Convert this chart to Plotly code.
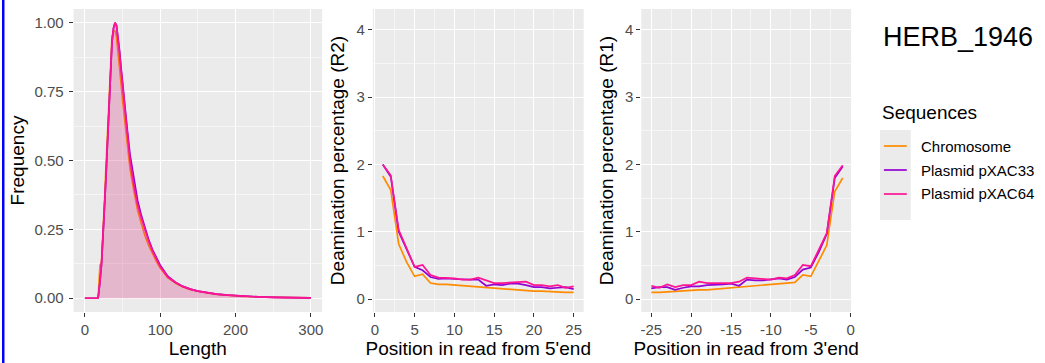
import plotly.graph_objects as go

# ---------------- data ----------------
series_names = ["Chromosome", "Plasmid pXAC33", "Plasmid pXAC64"]
series_colors = ["#FF8C00", "#9400D3", "#FF1493"]
fill_colors = ["rgba(255,140,0,0.1)", "rgba(148,0,211,0.1)", "rgba(255,20,147,0.1)"]

length_x = [0, 5, 10, 15, 17, 18, 19, 20, 22, 24, 26, 28, 30, 32, 34, 36, 38, 40, 42, 44,
            46, 48, 50, 53, 56, 60, 65, 70, 75, 80, 85, 90, 95, 100, 110, 120, 130, 140,
            150, 160, 175, 190, 210, 230, 250, 275, 300]
freq_chrom = [0, 0, 0, 0, 0, 0.02, 0.10, 0.12, 0.13, 0.22, 0.35, 0.48, 0.60, 0.74, 0.87, 0.95,
              0.97, 0.97, 0.95, 0.90, 0.85, 0.78, 0.72, 0.64, 0.56, 0.47, 0.39, 0.32, 0.27,
              0.225, 0.19, 0.16, 0.133, 0.11, 0.075, 0.055, 0.041, 0.031, 0.025, 0.02, 0.014,
              0.01, 0.007, 0.005, 0.003, 0.002, 0.001]
freq_p33 = [0, 0, 0, 0, 0, 0.01, 0.03, 0.06, 0.12, 0.21, 0.33, 0.44, 0.57, 0.71, 0.84, 0.93,
            0.98, 1.0, 0.99, 0.95, 0.90, 0.84, 0.78, 0.70, 0.62, 0.52, 0.43, 0.355, 0.30,
            0.25, 0.21, 0.175, 0.145, 0.12, 0.08, 0.058, 0.043, 0.033, 0.026, 0.021, 0.015,
            0.011, 0.007, 0.005, 0.003, 0.002, 0.001]
freq_p64 = [0, 0, 0, 0, 0, 0.01, 0.03, 0.06, 0.12, 0.21, 0.33, 0.44, 0.57, 0.71, 0.84, 0.93,
            0.98, 1.0, 0.99, 0.95, 0.89, 0.83, 0.77, 0.68, 0.60, 0.50, 0.41, 0.34, 0.29,
            0.245, 0.205, 0.17, 0.14, 0.115, 0.077, 0.058, 0.043, 0.033, 0.026, 0.021, 0.015,
            0.011, 0.007, 0.005, 0.003, 0.002, 0.001]

pos5 = list(range(1, 26))
r2_chrom = [1.83, 1.62, 0.82, 0.55, 0.34, 0.37, 0.24, 0.22, 0.22, 0.21, 0.20, 0.19, 0.19,
            0.17, 0.16, 0.15, 0.15, 0.14, 0.13, 0.12, 0.12, 0.11, 0.10, 0.10, 0.10]
r2_p33 = [2.0, 1.82, 1.0, 0.74, 0.48, 0.43, 0.33, 0.30, 0.31, 0.30, 0.29, 0.29, 0.29,
          0.20, 0.22, 0.21, 0.23, 0.23, 0.21, 0.18, 0.18, 0.16, 0.17, 0.18, 0.15]
r2_p64 = [2.0, 1.84, 1.03, 0.75, 0.48, 0.51, 0.36, 0.32, 0.32, 0.31, 0.29, 0.29, 0.32,
          0.28, 0.24, 0.24, 0.25, 0.26, 0.26, 0.21, 0.21, 0.19, 0.21, 0.17, 0.19]

pos3 = list(range(-1, -26, -1))
r1_chrom = [1.80, 1.60, 0.80, 0.56, 0.34, 0.36, 0.25, 0.24, 0.23, 0.22, 0.20, 0.19, 0.19,
            0.18, 0.17, 0.16, 0.15, 0.14, 0.14, 0.13, 0.12, 0.11, 0.10, 0.10, 0.10]
r1_p33 = [1.97, 1.80, 0.97, 0.70, 0.47, 0.44, 0.33, 0.29, 0.31, 0.29, 0.28, 0.28, 0.29,
          0.20, 0.23, 0.22, 0.22, 0.21, 0.19, 0.19, 0.17, 0.14, 0.18, 0.18, 0.16]
r1_p64 = [1.99, 1.83, 0.98, 0.73, 0.49, 0.51, 0.36, 0.31, 0.32, 0.29, 0.30, 0.31, 0.32,
          0.26, 0.24, 0.24, 0.24, 0.24, 0.26, 0.21, 0.21, 0.18, 0.22, 0.17, 0.20]

length_ticks = [0, 100, 200, 300]
freq_ticks = [0, 0.25, 0.5, 0.75, 1.0]
freq_ticklabels = ["0.00", "0.25", "0.50", "0.75", "1.00"]
pos5_ticks = [0, 5, 10, 15, 20, 25]
pos3_ticks = [-25, -20, -15, -10, -5, 0]
pos3_ticklabels = ["-25", "-20", "-15", "-10", "-5", "0"]
deam_ticks = [0, 1, 2, 3, 4]

# ---------------- figure ----------------
W, H = 1045, 363
fig = go.Figure()

freqs = [freq_chrom, freq_p33, freq_p64]
r2s = [r2_chrom, r2_p33, r2_p64]
r1s = [r1_chrom, r1_p33, r1_p64]

for i in range(3):
    fig.add_trace(go.Scatter(x=length_x, y=freqs[i], mode="lines", fill="tozeroy",
                             fillcolor=fill_colors[i],
                             line=dict(color=series_colors[i], width=1.7),
                             name=series_names[i], showlegend=False,
                             xaxis="x", yaxis="y"))
for i in range(3):
    fig.add_trace(go.Scatter(x=pos5, y=r2s[i], mode="lines",
                             line=dict(color=series_colors[i], width=1.7),
                             name=series_names[i], showlegend=False,
                             xaxis="x2", yaxis="y2"))
for i in range(3):
    fig.add_trace(go.Scatter(x=pos3, y=r1s[i], mode="lines",
                             line=dict(color=series_colors[i], width=1.7),
                             name=series_names[i], showlegend=False,
                             xaxis="x3", yaxis="y3"))

def px_x(p):
    return p / W

def px_y(p):
    return 1 - p / H

FONT = "Liberation Sans, Arial, sans-serif"
tick_font = dict(family=FONT, size=15, color="#4D4D4D")
title_font = dict(family=FONT, size=19, color="black")
grid = dict(showgrid=True, gridcolor="white", gridwidth=1.2, zeroline=False,
            ticks="outside", ticklen=4, tickwidth=1, tickcolor="#333333",
            tickfont=tick_font, showline=False)
minor = dict(showgrid=True, gridcolor="rgba(255,255,255,0.55)", gridwidth=0.6, ticks="")

y_dom = [px_y(312), px_y(9)]

# ---- manual legend (ggplot style) ----
legend_rows_y = [146, 170, 194]
annotations = [
    dict(text="HERB_1946", x=px_x(884), y=px_y(37), xref="paper", yref="paper",
         xanchor="left", yanchor="middle", showarrow=False,
         font=dict(size=27, color="black", family=FONT)),
    dict(text="Sequences", x=px_x(883), y=px_y(113), xref="paper", yref="paper",
         xanchor="left", yanchor="middle", showarrow=False,
         font=dict(size=19, color="black", family=FONT)),
]
shapes = [
    dict(type="rect", xref="paper", yref="paper", x0=px_x(883), x1=px_x(914),
         y0=px_y(220), y1=px_y(130), fillcolor="#EBEBEB", line=dict(width=0),
         layer="below"),
    dict(type="rect", xref="paper", yref="paper", x0=0, x1=px_x(2.5),
         y0=0, y1=1, fillcolor="#0000FF", line=dict(width=0)),
]
for name, color, ry in zip(series_names, series_colors, legend_rows_y):
    shapes.append(dict(type="line", xref="paper", yref="paper", x0=px_x(887), x1=px_x(910),
                       y0=px_y(ry), y1=px_y(ry), line=dict(color=color, width=1.7)))
    annotations.append(dict(text=name, x=px_x(922), y=px_y(ry), xref="paper", yref="paper",
                            xanchor="left", yanchor="middle", showarrow=False,
                            font=dict(size=15, color="black", family=FONT)))

fig.update_layout(
    width=W, height=H,
    margin=dict(l=0, r=0, t=0, b=0),
    paper_bgcolor="white",
    plot_bgcolor="#EBEBEB",
    font=dict(family=FONT),
    showlegend=False,
    xaxis=dict(domain=[px_x(72), px_x(322)], range=[-15, 315], tickvals=length_ticks,
               title=dict(text="Length", font=title_font, standoff=4),
               minor=dict(dtick=50, tick0=0, **minor), anchor="y", **grid),
    yaxis=dict(domain=y_dom, range=[-0.05, 1.05], tickvals=freq_ticks,
               ticktext=freq_ticklabels, ticklabelstandoff=2,
               title=dict(text="Frequency", font=title_font, standoff=4),
               minor=dict(dtick=0.125, tick0=0, **minor), anchor="x", **grid),
    xaxis2=dict(domain=[px_x(373), px_x(585)], range=[-0.25, 26.25], tickvals=pos5_ticks,
                title=dict(text="Position in read from 5'end", font=title_font, standoff=4),
                minor=dict(dtick=2.5, tick0=0, **minor), anchor="y2", **grid),
    yaxis2=dict(domain=y_dom, range=[-0.19, 4.31], tickvals=deam_ticks,
                title=dict(text="Deamination percentage (R2)", font=title_font, standoff=6),
                minor=dict(dtick=0.5, tick0=0, **minor), anchor="x2", **grid),
    xaxis3=dict(domain=[px_x(643), px_x(854)], range=[-26.25, 0.05], tickvals=pos3_ticks,
                ticktext=pos3_ticklabels,
                title=dict(text="Position in read from 3'end", font=title_font, standoff=4),
                minor=dict(dtick=2.5, tick0=0, **minor), anchor="y3", **grid),
    yaxis3=dict(domain=y_dom, range=[-0.19, 4.31], tickvals=deam_ticks,
                title=dict(text="Deamination percentage (R1)", font=title_font, standoff=6),
                minor=dict(dtick=0.5, tick0=0, **minor), anchor="x3", **grid),
    annotations=annotations,
    shapes=shapes,
)

fig.write_html("out.html")
